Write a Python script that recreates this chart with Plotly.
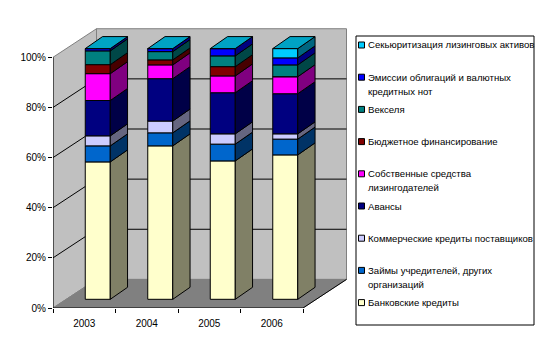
import plotly.graph_objects as go

years = ["2003", "2004", "2005", "2006"]
names = [
    "Банковские кредиты",
    "Займы учредителей, других<br>организаций",
    "Коммерческие кредиты поставщиков",
    "Авансы",
    "Собственные средства<br>лизингодателей",
    "Бюджетное финансирование",
    "Векселя",
    "Эмиссии облигаций и валютных<br>кредитных нот",
    "Секьюритизация лизинговых активов",
]
bank = [54.8, 61.2, 55.2, 57.6]
loans = [6.4, 5.2, 6.7, 6.3]
commercial = [4.0, 4.7, 4.1, 2.1]
advances = [14.1, 16.9, 16.4, 16.0]
own = [10.7, 5.5, 6.7, 6.8]
budget = [3.6, 2.0, 3.7, 0.0]
bills = [5.5, 3.3, 4.3, 4.7]
bonds = [0.9, 1.2, 2.9, 2.8]
secur = [0.0, 0.0, 0.0, 3.7]
series = [bank, loans, commercial, advances, own, budget, bills, bonds, secur]
front = ["#FFFFCC", "#0066CC", "#CCCCFF", "#000080", "#FF00FF", "#800000", "#008080", "#0000FF", "#00CCFF"]
side = ["#808066", "#003366", "#666680", "#000047", "#800080", "#470000", "#004747", "#000080", "#006680"]
top_colour = "#00A3C4"

W, H = 542, 362
PX_X = 62.5        # px per category
PX_Y = 2.507       # px per percent
X0, Y0 = 53, 308
X1, Y1 = 350, 25
WALL_DX, WALL_DY = 0.696, 11.4
BAR_OX, BAR_OY = 0.216, 3.47
BAR_W = 0.4
BAR_DX, BAR_DY = 0.277, 4.79
FONT = "Liberation Sans, Arial, sans-serif"

fig = go.Figure()
centres = [i + 0.5 + BAR_OX for i in range(len(years))]

# front faces
cum = [0.0] * len(years)
bases = []
for vals, col, name in zip(series, front, names):
    base = [c + BAR_OY for c in cum]
    bases.append(base)
    fig.add_trace(go.Bar(x=centres, y=vals, base=base, width=BAR_W, name=name.replace("<br>", " "),
                         marker=dict(color=col, line=dict(color="black", width=1)),
                         showlegend=False, hoverinfo="skip"))
    cum = [c + v for c, v in zip(cum, vals)]

# side faces
for vals, base, col in zip(series, bases, side):
    xs, ys = [], []
    for c, v, b in zip(centres, vals, base):
        if v <= 0:
            continue
        r = c + BAR_W / 2
        xs += [r, r + BAR_DX, r + BAR_DX, r, r, None]
        ys += [b, b + BAR_DY, b + v + BAR_DY, b + v, b, None]
    fig.add_trace(go.Scatter(x=xs, y=ys, mode="lines", fill="toself", fillcolor=col,
                             line=dict(color="black", width=1), showlegend=False, hoverinfo="skip"))

# top faces
xs, ys = [], []
for c, t in zip(centres, cum):
    l, r, y = c - BAR_W / 2, c + BAR_W / 2, t + BAR_OY
    xs += [l, r, r + BAR_DX, l + BAR_DX, l, None]
    ys += [y, y, y + BAR_DY, y + BAR_DY, y, None]
fig.add_trace(go.Scatter(x=xs, y=ys, mode="lines", fill="toself", fillcolor=top_colour,
                         line=dict(color="black", width=1), showlegend=False, hoverinfo="skip"))

# axis lines
n = len(years)
fig.add_trace(go.Scatter(x=[0, 0, None, 0, n, n + WALL_DX], y=[100, 0, None, 0, 0, WALL_DY], mode="lines",
                         line=dict(color="black", width=1), cliponaxis=False,
                         showlegend=False, hoverinfo="skip"))

# walls, floor, grid
shapes = []
def poly(pts, fill, line="#808080", width=1):
    path = "M " + " L ".join(f"{x} {y}" for x, y in pts) + " Z"
    shapes.append(dict(type="path", path=path, xref="x", yref="y", fillcolor=fill, layer="below",
                       line=dict(color=line, width=width)))

poly([(WALL_DX, WALL_DY), (n + WALL_DX, WALL_DY), (n + WALL_DX, 100 + WALL_DY), (WALL_DX, 100 + WALL_DY)], "#C0C0C0")
poly([(0, 0), (WALL_DX, WALL_DY), (WALL_DX, 100 + WALL_DY), (0, 100)], "#C0C0C0")
poly([(0, 0), (n, 0), (n + WALL_DX, WALL_DY), (WALL_DX, WALL_DY)], "#808080", line="#808080")
for v in [20, 40, 60, 80]:
    shapes.append(dict(type="line", xref="x", yref="y", x0=0, y0=v, x1=WALL_DX, y1=v + WALL_DY,
                       layer="below", line=dict(color="black", width=1)))
    shapes.append(dict(type="line", xref="x", yref="y", x0=WALL_DX, y0=v + WALL_DY, x1=n + WALL_DX, y1=v + WALL_DY,
                       layer="below", line=dict(color="black", width=1)))

# legend
annotations = []
LEG_L, LEG_R, LEG_T, LEG_B = 356, 534, 36, 325
shapes.append(dict(type="rect", xref="paper", yref="paper", x0=LEG_L / W, x1=LEG_R / W,
                   y0=1 - LEG_B / H, y1=1 - LEG_T / H, fillcolor="white", line=dict(color="black", width=1)))
entry_y = [45 + 32.2 * i for i in range(len(names))]
for y, name, col in zip(entry_y, reversed(names), reversed(front)):
    shapes.append(dict(type="rect", xref="paper", yref="paper", x0=358.5 / W, x1=364.5 / W,
                       y0=1 - (y + 3) / H, y1=1 - (y - 3) / H, fillcolor=col, line=dict(color="black", width=1)))
    for k, line_text in enumerate(name.split("<br>")):
        annotations.append(dict(text=line_text, xref="paper", yref="paper", x=367 / W, y=1 - (y + 14 * k) / H,
                                xanchor="left", yanchor="middle", align="left", showarrow=False, borderpad=0,
                                font=dict(family=FONT, size=9.6, color="black")))

fig.update_layout(
    width=W, height=H, margin=dict(l=0, r=0, t=0, b=0), autosize=False,
    paper_bgcolor="white", plot_bgcolor="white", barmode="overlay", showlegend=False,
    font=dict(family=FONT, size=10, color="black"),
    shapes=shapes, annotations=annotations,
    xaxis=dict(domain=[X0 / W, X1 / W], range=[0, (X1 - X0) / PX_X], showgrid=False, zeroline=False, showline=False,
               automargin=False,
               tickmode="array", tickvals=[i + 0.5 for i in range(n)], ticktext=years, ticks="",
               ticklabelstandoff=8,
               minor=dict(tickmode="array", tickvals=list(range(n + 1)), ticks="outside", ticklen=4,
                          tickcolor="black", tickwidth=1, showgrid=False),
               tickfont=dict(family=FONT, size=10, color="black")),
    yaxis=dict(domain=[1 - Y0 / H, 1 - Y1 / H], range=[0, (Y0 - Y1) / PX_Y], showgrid=False, zeroline=False, showline=False,
               automargin=False,
               tickmode="array", tickvals=[0, 20, 40, 60, 80, 100], ticktext=["0%", "20%", "40%", "60%", "80%", "100%"],
               ticks="outside", ticklen=4, tickcolor="black", tickwidth=1,
               tickfont=dict(family=FONT, size=10, color="black")),
)
fig.write_html("out.html", config=dict(displayModeBar=False),
               post_script="document.body.style.margin='0';document.documentElement.style.overflow='hidden';")
